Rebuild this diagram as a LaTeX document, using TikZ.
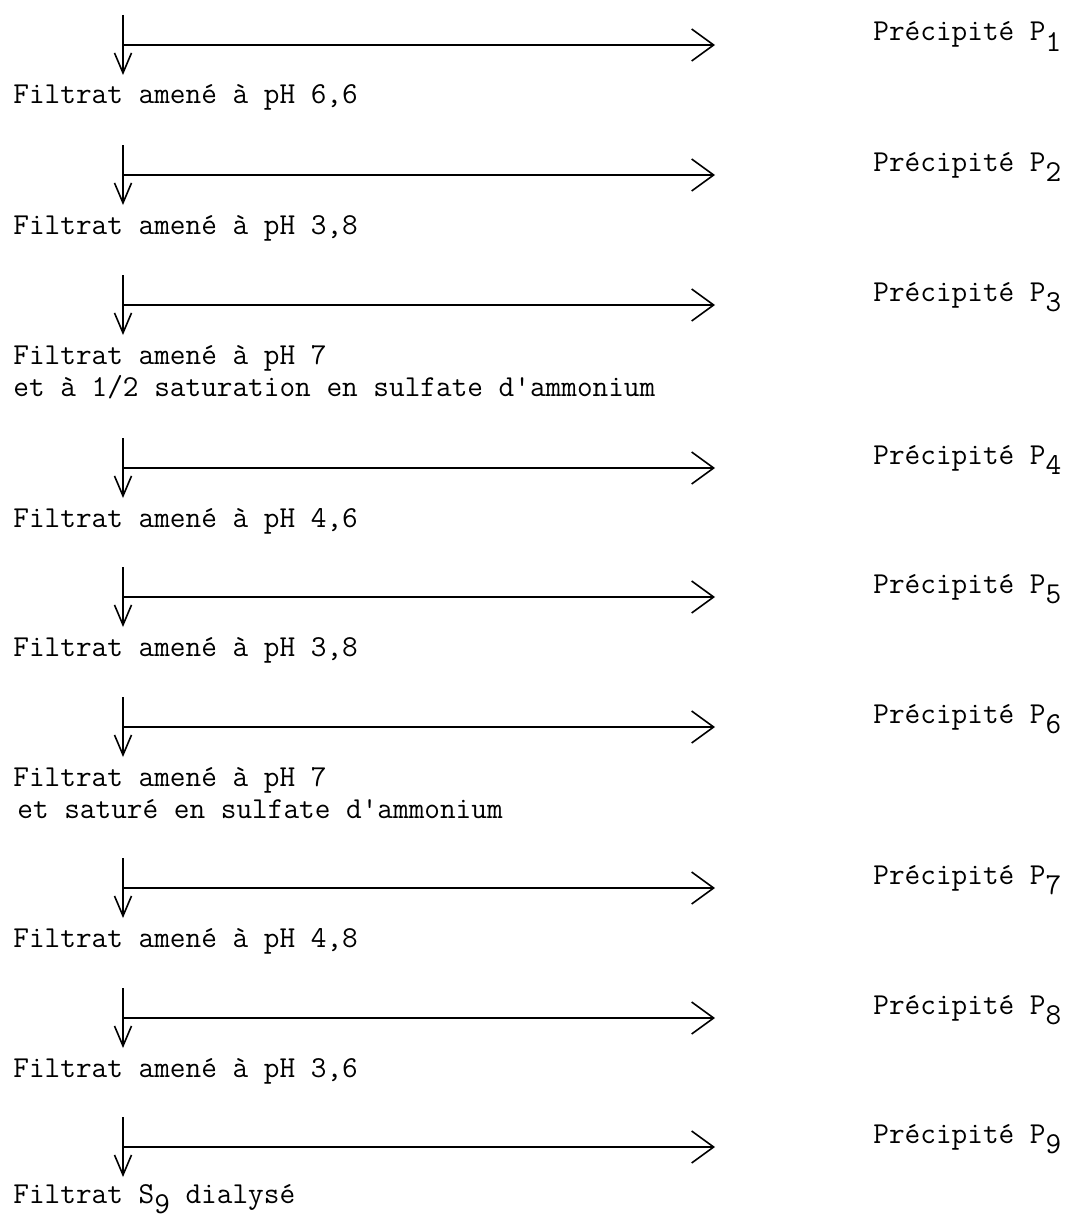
\documentclass[tikz,border=0pt]{standalone}
\usepackage{tikz}
\usetikzlibrary{arrows.meta}
\newcommand{\lowidx}[1]{\raisebox{-0.35em}{#1}}

\begin{document}
\begin{tikzpicture}[x=0.5pt,y=-0.5pt,
  every node/.style={font=\fontsize{15.2}{16}\selectfont\ttfamily,inner sep=0pt},
  down/.style={line width=0.8pt,-{Straight Barb[length=10pt,width=8.5pt]}},
  sidearrow/.style={line width=0.8pt,-{Straight Barb[length=11pt,width=16pt]}},
  filtrat/.style={anchor=base west,align=left},
  precip/.style={anchor=base west}]
\useasboundingbox (0,0) rectangle (1067,1220);
\coordinate (t1) at (123,15);
\coordinate (j1) at (123,45);
\coordinate (b1) at (123,75);
\coordinate (e1) at (715,45);
\draw[down] (t1) -- (b1);
\draw[sidearrow] (j1) -- (e1);
\node[precip] (p1) at (873,41) {Précipité P\lowidx{1}};
\node[filtrat] (f1) at (13,104) {Filtrat amené à pH 6,6};
\coordinate (t2) at (123,145);
\coordinate (j2) at (123,175);
\coordinate (b2) at (123,205);
\coordinate (e2) at (715,175);
\draw[down] (t2) -- (b2);
\draw[sidearrow] (j2) -- (e2);
\node[precip] (p2) at (873,171) {Précipité P\lowidx{2}};
\node[filtrat] (f2) at (13,234) {Filtrat amené à pH 3,8};
\coordinate (t3) at (123,275);
\coordinate (j3) at (123,305);
\coordinate (b3) at (123,335);
\coordinate (e3) at (715,305);
\draw[down] (t3) -- (b3);
\draw[sidearrow] (j3) -- (e3);
\node[precip] (p3) at (873,301) {Précipité P\lowidx{3}};
\node[filtrat] (f3) at (13,396) {Filtrat amené à pH 7\\et à 1/2 saturation en sulfate d'ammonium};
\coordinate (t4) at (123,438);
\coordinate (j4) at (123,468);
\coordinate (b4) at (123,498);
\coordinate (e4) at (715,468);
\draw[down] (t4) -- (b4);
\draw[sidearrow] (j4) -- (e4);
\node[precip] (p4) at (873,464) {Précipité P\lowidx{4}};
\node[filtrat] (f4) at (13,527) {Filtrat amené à pH 4,6};
\coordinate (t5) at (123,567);
\coordinate (j5) at (123,597);
\coordinate (b5) at (123,627);
\coordinate (e5) at (715,597);
\draw[down] (t5) -- (b5);
\draw[sidearrow] (j5) -- (e5);
\node[precip] (p5) at (873,593) {Précipité P\lowidx{5}};
\node[filtrat] (f5) at (13,656) {Filtrat amené à pH 3,8};
\coordinate (t6) at (123,697);
\coordinate (j6) at (123,727);
\coordinate (b6) at (123,757);
\coordinate (e6) at (715,727);
\draw[down] (t6) -- (b6);
\draw[sidearrow] (j6) -- (e6);
\node[precip] (p6) at (873,723) {Précipité P\lowidx{6}};
\node[filtrat] (f6) at (13,818) {Filtrat amené à pH 7\\\hspace{2pt}et saturé en sulfate d'ammonium};
\coordinate (t7) at (123,858);
\coordinate (j7) at (123,888);
\coordinate (b7) at (123,918);
\coordinate (e7) at (715,888);
\draw[down] (t7) -- (b7);
\draw[sidearrow] (j7) -- (e7);
\node[precip] (p7) at (873,884) {Précipité P\lowidx{7}};
\node[filtrat] (f7) at (13,947) {Filtrat amené à pH 4,8};
\coordinate (t8) at (123,988);
\coordinate (j8) at (123,1018);
\coordinate (b8) at (123,1048);
\coordinate (e8) at (715,1018);
\draw[down] (t8) -- (b8);
\draw[sidearrow] (j8) -- (e8);
\node[precip] (p8) at (873,1014) {Précipité P\lowidx{8}};
\node[filtrat] (f8) at (13,1077) {Filtrat amené à pH 3,6};
\coordinate (t9) at (123,1117);
\coordinate (j9) at (123,1147);
\coordinate (b9) at (123,1177);
\coordinate (e9) at (715,1147);
\draw[down] (t9) -- (b9);
\draw[sidearrow] (j9) -- (e9);
\node[precip] (p9) at (873,1143) {Précipité P\lowidx{9}};
\node[filtrat] (f9) at (13,1203) {Filtrat S\lowidx{9} dialysé};
\end{tikzpicture}
\end{document}
